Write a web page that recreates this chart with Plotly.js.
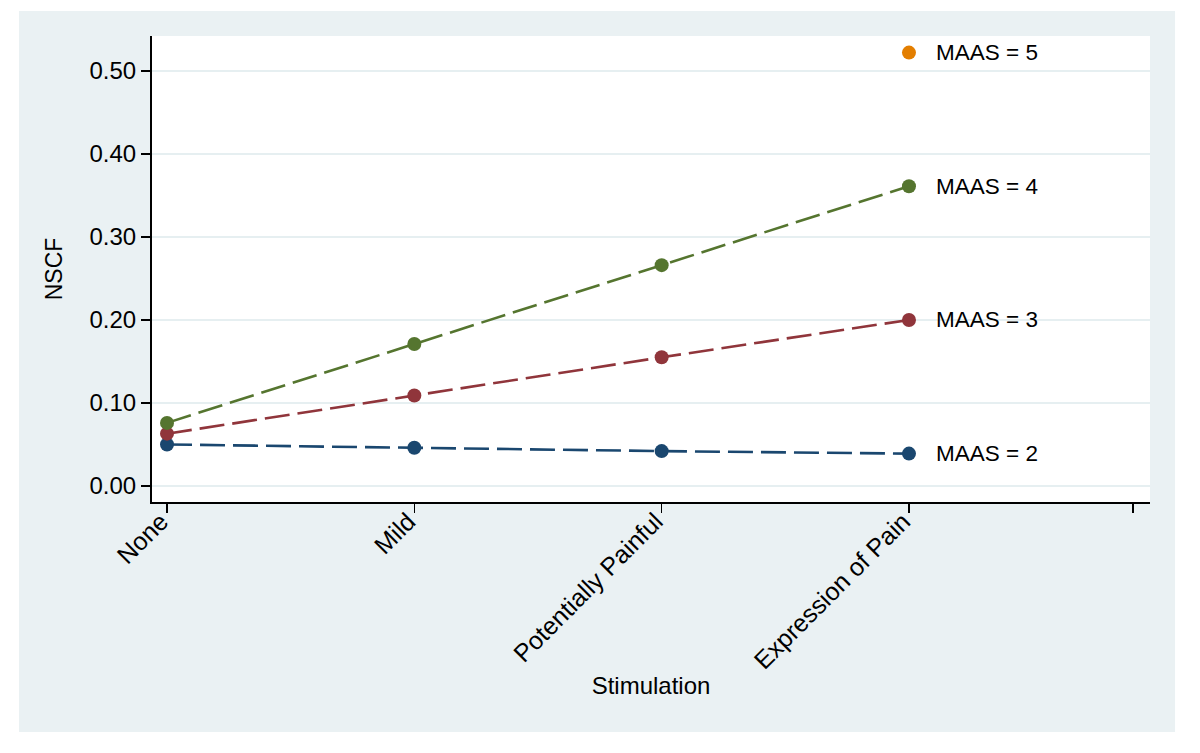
<!DOCTYPE html>
<html>
<head>
<meta charset="utf-8">
<script src="https://cdn.plot.ly/plotly-3.0.1.min.js"></script>
<style>html,body{margin:0;padding:0;background:#fff;}#chart{width:1200px;height:753px;}</style>
</head>
<body>
<div id="chart"></div>
<script>
// Data
const categories = ["None", "Mild", "Potentially Painful", "Expression of Pain"];
const xPositions = [1, 2, 3, 4];
const maas2 = [0.050, 0.046, 0.042, 0.039];
const maas3 = [0.063, 0.109, 0.155, 0.200];
const maas4 = [0.076, 0.171, 0.266, 0.361];
const maas5 = [null, null, null, 0.522];
const seriesNames = ["MAAS = 2", "MAAS = 3", "MAAS = 4", "MAAS = 5"];
const seriesValues = [maas2, maas3, maas4, maas5];
const seriesColors = ["#1a476f", "#90353b", "#55752f", "#e37e00"];
const xTickVals = [1, 2, 3, 4, 4.906];
const xTickText = ["None", "Mild", "Potentially Painful", "Expression of Pain", ""];
const yTicks = [0, 0.1, 0.2, 0.3, 0.4, 0.5];
const yTickLabels = ["0.00", "0.10", "0.20", "0.30", "0.40", "0.50"];

const font = "Liberation Sans, Arial, Helvetica, sans-serif";

const traces = seriesValues.map((vals, i) => ({
  type: "scatter",
  mode: "lines+markers",
  x: xPositions,
  y: vals,
  name: seriesNames[i],
  line: {color: seriesColors[i], width: 2.6, dash: "25px,8px"},
  marker: {color: seriesColors[i], size: 14},
  connectgaps: false,
  showlegend: false,
  hoverinfo: "skip"
}));

const annotations = seriesValues.map((vals, i) => ({
  x: xPositions[xPositions.length - 1],
  y: vals[vals.length - 1],
  xref: "x", yref: "y",
  text: seriesNames[i],
  showarrow: false,
  xanchor: "left",
  yanchor: "middle",
  xshift: 25,
  font: {family: font, size: 22.5, color: "#000"}
}));

const layout = {
  width: 1200,
  height: 753,
  margin: {l: 152, r: 50, t: 36, b: 251},
  paper_bgcolor: "#ffffff",
  plot_bgcolor: "rgba(0,0,0,0)",
  font: {family: font, color: "#000"},
  shapes: [
    {type: "rect", xref: "paper", yref: "paper", x0: -0.1333, x1: 1.0251, y0: -0.4936, y1: 1.0536,
     fillcolor: "#eaf1f3", line: {width: 0}, layer: "below"},
    {type: "rect", xref: "paper", yref: "paper", x0: 0, x1: 1, y0: 0, y1: 1,
     fillcolor: "#ffffff", line: {width: 0}, layer: "below"}
  ],
  xaxis: {
    range: [0.9393, 4.9745],
    tickmode: "array",
    tickvals: xTickVals,
    ticktext: xTickText,
    tickangle: -45,
    ticks: "outside",
    ticklen: 9,
    tickwidth: 1.5,
    tickcolor: "#000",
    showline: true,
    linecolor: "#000",
    linewidth: 2,
    showgrid: false,
    zeroline: false,
    ticklabelstandoff: -16,
    ticklabelshift: -6,
    tickfont: {family: font, size: 25, color: "#000"},
    title: {text: "Stimulation", font: {family: font, size: 24, color: "#000"}, standoff: 4}
  },
  yaxis: {
    range: [-0.0193, 0.542],
    tickmode: "array",
    tickvals: yTicks,
    ticktext: yTickLabels,
    ticks: "outside",
    ticklen: 9,
    tickwidth: 1.5,
    tickcolor: "#000",
    showline: true,
    linecolor: "#000",
    linewidth: 2,
    showgrid: true,
    gridcolor: "#e6eff1",
    gridwidth: 1.5,
    zeroline: false,
    tickfont: {family: font, size: 24, color: "#000"},
    title: {text: "NSCF", font: {family: font, size: 23, color: "#000"}, standoff: 20}
  },
  annotations: annotations,
  showlegend: false
};

Plotly.newPlot("chart", traces, layout, {staticPlot: true, displayModeBar: false});
</script>
</body>
</html>
